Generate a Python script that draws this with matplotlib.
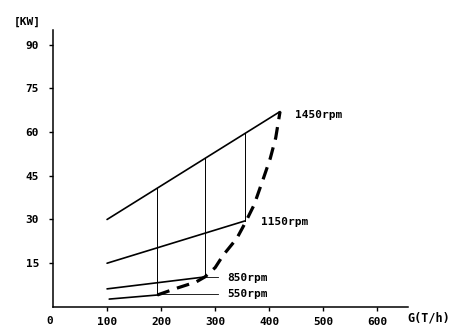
import matplotlib.pyplot as plt

# Data (G in T/h, power in kW)
speeds = ['1450rpm', '1150rpm', '850rpm', '550rpm']
line_g = {
    '1450rpm': [100, 420],
    '1150rpm': [100, 355],
    '850rpm': [100, 281],
    '550rpm': [104, 193],
}
line_kw = {
    '1450rpm': [30, 67],
    '1150rpm': [15, 29.5],
    '850rpm': [6.2, 10.3],
    '550rpm': [2.7, 4.1],
}

# verticals: G, bottom kW, top kW
vert_g = [193, 281, 356]
vert_lo = [4.1, 10.3, 29.5]
vert_hi = [40.7, 51.0, 59.5]

# dashed envelope
env_g = [193, 230, 265, 281, 300, 315, 340, 356, 372, 390, 402, 412, 420]
env_kw = [4.1, 6.5, 8.6, 10.3, 13.5, 17.8, 23.5, 29.0, 35.0, 44.5, 51.0, 58.0, 67.0]

# label positions
label_g = [448, 385, 322, 322]
label_kw = [65.8, 29.1, 9.9, 4.5]

x_ticks = [100, 200, 300, 400, 500, 600]
y_ticks = [15, 30, 45, 60, 75, 90]

mono = 'DejaVu Sans Mono'

fig = plt.figure(figsize=(4.53, 3.29), dpi=100)
ax = fig.add_axes([0.117, 0.067, 0.784, 0.842])

# speed lines
for s in speeds:
    ax.plot(line_g[s], line_kw[s], color='black', lw=1.2, solid_capstyle='round')

# vertical lines
for g, lo, hi in zip(vert_g, vert_lo, vert_hi):
    ax.plot([g, g], [lo, hi], color='black', lw=0.7)

# leader lines for the lower labels
ax.plot([281, 306], [10.3, 10.3], color='black', lw=0.6)
ax.plot([193, 306], [4.6, 4.6], color='black', lw=0.6)

# dashed envelope
ax.plot(env_g, env_kw, color='black', lw=2.3, dashes=(4, 2.5))

for s, g, kw in zip(speeds, label_g, label_kw):
    ax.text(g, kw, s, fontsize=8, family=mono, fontweight='bold', ha='left', va='center')

ax.set_xlim(0, 657)
ax.set_ylim(0, 95)
ax.spines['top'].set_visible(False)
ax.spines['right'].set_visible(False)
ax.spines['left'].set_linewidth(1.1)
ax.spines['bottom'].set_linewidth(1.1)
ax.set_xticks(x_ticks)
ax.set_yticks(y_ticks)
ax.tick_params(length=3, width=1, pad=7, labelsize=8)
ax.tick_params(axis='x', pad=4)
for lab in ax.get_xticklabels() + ax.get_yticklabels():
    lab.set_family(mono)
    lab.set_fontweight('bold')

fig.text(50 / 453, 1 - 321 / 329, '0', fontsize=8, family=mono, fontweight='bold', ha='center', va='center')
fig.text(27 / 453, 1 - 22 / 329, '[KW]', fontsize=8, family=mono, fontweight='bold', ha='center', va='center')
fig.text(407 / 453, 1 - 318 / 329, 'G(T/h)', fontsize=8.5, family=mono, fontweight='bold', ha='left', va='center')

fig.savefig('out.png', dpi=100)
